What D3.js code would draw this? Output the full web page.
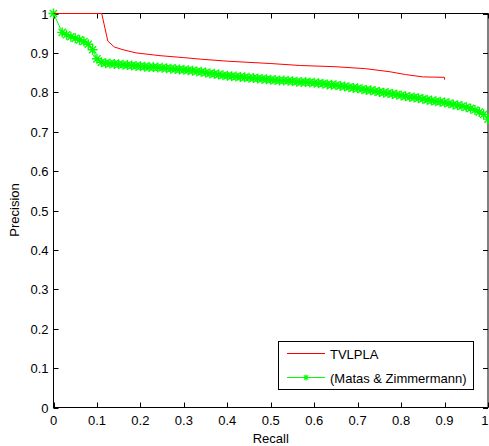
<!DOCTYPE html>
<html lang="en">
<head>
    <meta charset="UTF-8">
    <title>Precision / Recall</title>
    <script src="https://d3js.org/d3.v7.min.js"></script>
    <style>
        body { margin: 0; background: #fff; }
        text { font: 13px "Liberation Sans", Arial, sans-serif; fill: #000; }
        .frame { fill: none; stroke: #000; stroke-width: 1; }
        .tick { stroke: #000; stroke-width: 1; }
    </style>
</head>
<body>
    <svg width="489" height="446"></svg>
    <script>
        // Tick values
        const xTicks = [0, 0.1, 0.2, 0.3, 0.4, 0.5, 0.6, 0.7, 0.8, 0.9, 1];
        const yTicks = [0, 0.1, 0.2, 0.3, 0.4, 0.5, 0.6, 0.7, 0.8, 0.9, 1];

        // TVLPLA curve [recall, precision]
        const tvlpla = [
            [0, 1], [0.111, 1], [0.125, 0.93], [0.14, 0.915], [0.16, 0.908],
            [0.19, 0.9], [0.245, 0.893], [0.3, 0.888], [0.34, 0.884], [0.4, 0.879],
            [0.45, 0.876], [0.5, 0.873], [0.568, 0.868], [0.648, 0.865], [0.718, 0.86],
            [0.775, 0.852], [0.81, 0.845], [0.851, 0.839], [0.9, 0.838], [0.9, 0.832]
        ];

        // Matas & Zimmermann curve [recall, precision]
        const matas = [
            [0, 1],
            [0.02, 0.952], [0.03, 0.946], [0.04, 0.941], [0.05, 0.937], [0.06, 0.933],
            [0.07, 0.929], [0.08, 0.922], [0.09, 0.908], [0.10, 0.885],
            [0.11, 0.876], [0.12, 0.874], [0.13, 0.873], [0.14, 0.872], [0.15, 0.871],
            [0.16, 0.870], [0.17, 0.869], [0.18, 0.868], [0.19, 0.867], [0.20, 0.866],
            [0.21, 0.865], [0.22, 0.864], [0.23, 0.864], [0.24, 0.863], [0.25, 0.862],
            [0.26, 0.861], [0.27, 0.860], [0.28, 0.859], [0.29, 0.858], [0.30, 0.857],
            [0.31, 0.856], [0.32, 0.855], [0.33, 0.853], [0.34, 0.852], [0.35, 0.850],
            [0.36, 0.848], [0.37, 0.847], [0.38, 0.845], [0.39, 0.843], [0.40, 0.842],
            [0.41, 0.841], [0.42, 0.840], [0.43, 0.839], [0.44, 0.838], [0.45, 0.837],
            [0.46, 0.836], [0.47, 0.835], [0.48, 0.834], [0.49, 0.833], [0.50, 0.832],
            [0.51, 0.831], [0.52, 0.830], [0.53, 0.830], [0.54, 0.829], [0.55, 0.828],
            [0.56, 0.827], [0.57, 0.826], [0.58, 0.826], [0.59, 0.825], [0.60, 0.824],
            [0.61, 0.823], [0.62, 0.822], [0.63, 0.820], [0.64, 0.819], [0.65, 0.818],
            [0.66, 0.816], [0.67, 0.815], [0.68, 0.813], [0.69, 0.811], [0.70, 0.810],
            [0.71, 0.808], [0.72, 0.806], [0.73, 0.805], [0.74, 0.803], [0.75, 0.801],
            [0.76, 0.799], [0.77, 0.798], [0.78, 0.796], [0.79, 0.794], [0.80, 0.792],
            [0.81, 0.790], [0.82, 0.788], [0.83, 0.787], [0.84, 0.785], [0.85, 0.783],
            [0.86, 0.781], [0.87, 0.779], [0.88, 0.777], [0.89, 0.776], [0.90, 0.774],
            [0.91, 0.772], [0.92, 0.769], [0.93, 0.767], [0.94, 0.765], [0.95, 0.762],
            [0.96, 0.759], [0.97, 0.755], [0.98, 0.750], [0.99, 0.744], [1.00, 0.732]
        ];

        const legendNames = ["TVLPLA", "(Matas & Zimmermann)"];

        const svg = d3.select("svg");
        const x0 = 53.5, x1 = 488, y0 = 13.5, y1 = 407.5;

        const x = d3.scaleLinear().domain([0, 1]).range([x0, x1]);
        const y = d3.scaleLinear().domain([0, 1]).range([y1, y0]);

        // box
        svg.append("rect").attr("class", "frame")
           .attr("x", x0).attr("y", y0)
           .attr("width", x1 - x0).attr("height", y1 - y0);

        // inward ticks on all four sides
        const tl = 5;
        xTicks.forEach(t => {
            const px = Math.round(x(t)) + 0.5;
            svg.append("line").attr("class", "tick").attr("x1", px).attr("x2", px).attr("y1", y1).attr("y2", y1 - tl);
            svg.append("line").attr("class", "tick").attr("x1", px).attr("x2", px).attr("y1", y0).attr("y2", y0 + tl);
            // last label would run off the page edge: right-align it instead
            svg.append("text").attr("x", t === 1 ? 488.5 : x(t)).attr("y", y1 + 17)
               .attr("text-anchor", t === 1 ? "end" : "middle").text(d3.format("")(t));
        });
        yTicks.forEach(t => {
            const py = Math.round(y(t)) + 0.5;
            svg.append("line").attr("class", "tick").attr("x1", x0).attr("x2", x0 + tl).attr("y1", py).attr("y2", py);
            svg.append("line").attr("class", "tick").attr("x1", x1).attr("x2", x1 - tl).attr("y1", py).attr("y2", py);
            svg.append("text").attr("x", x0 - 5).attr("y", y(t) + 5)
               .attr("text-anchor", "end").text(d3.format("")(t));
        });

        // axis titles
        svg.append("text").attr("x", (x0 + x1) / 2).attr("y", 443)
           .attr("text-anchor", "middle").text("Recall");
        svg.append("text").attr("transform", "translate(19,210) rotate(-90)")
           .attr("text-anchor", "middle").text("Precision");

        const line = d3.line().x(d => x(d[0])).y(d => y(d[1]));

        // asterisk marker
        const s = 5, dd = 3.6;
        const star = `M${-s},0H${s}M0,${-s}V${s}M${-dd},${-dd}L${dd},${dd}M${-dd},${dd}L${dd},${-dd}`;

        svg.append("path").datum(matas)
           .attr("fill", "none").attr("stroke", "#00ff00").attr("stroke-width", 1)
           .attr("d", line);
        svg.append("g").selectAll("path").data(matas).join("path")
           .attr("transform", d => `translate(${x(d[0])},${y(d[1])})`)
           .attr("d", star).attr("fill", "none")
           .attr("stroke", "#00ff00").attr("stroke-width", 1.4);

        svg.append("path").datum(tvlpla)
           .attr("fill", "none").attr("stroke", "#ff0000").attr("stroke-width", 1)
           .attr("d", line);

        // legend
        const lg = svg.append("g");
        lg.append("rect").attr("x", 278.5).attr("y", 341.5).attr("width", 195).attr("height", 48)
          .attr("fill", "#fff").attr("stroke", "#000");
        const colors = ["#ff0000", "#00ff00"];
        legendNames.forEach((name, i) => {
            const ly = 353.5 + i * 24;
            lg.append("line").attr("x1", 287).attr("x2", 325).attr("y1", ly).attr("y2", ly)
              .attr("stroke", colors[i]);
            if (i === 1) {
                lg.append("path").attr("transform", `translate(306,${ly}) scale(0.6)`).attr("d", star)
                  .attr("fill", "none").attr("stroke", colors[i]).attr("stroke-width", 2);
            }
            lg.append("text").attr("x", 330).attr("y", ly + 5).text(name);
        });
    </script>
</body>
</html>
